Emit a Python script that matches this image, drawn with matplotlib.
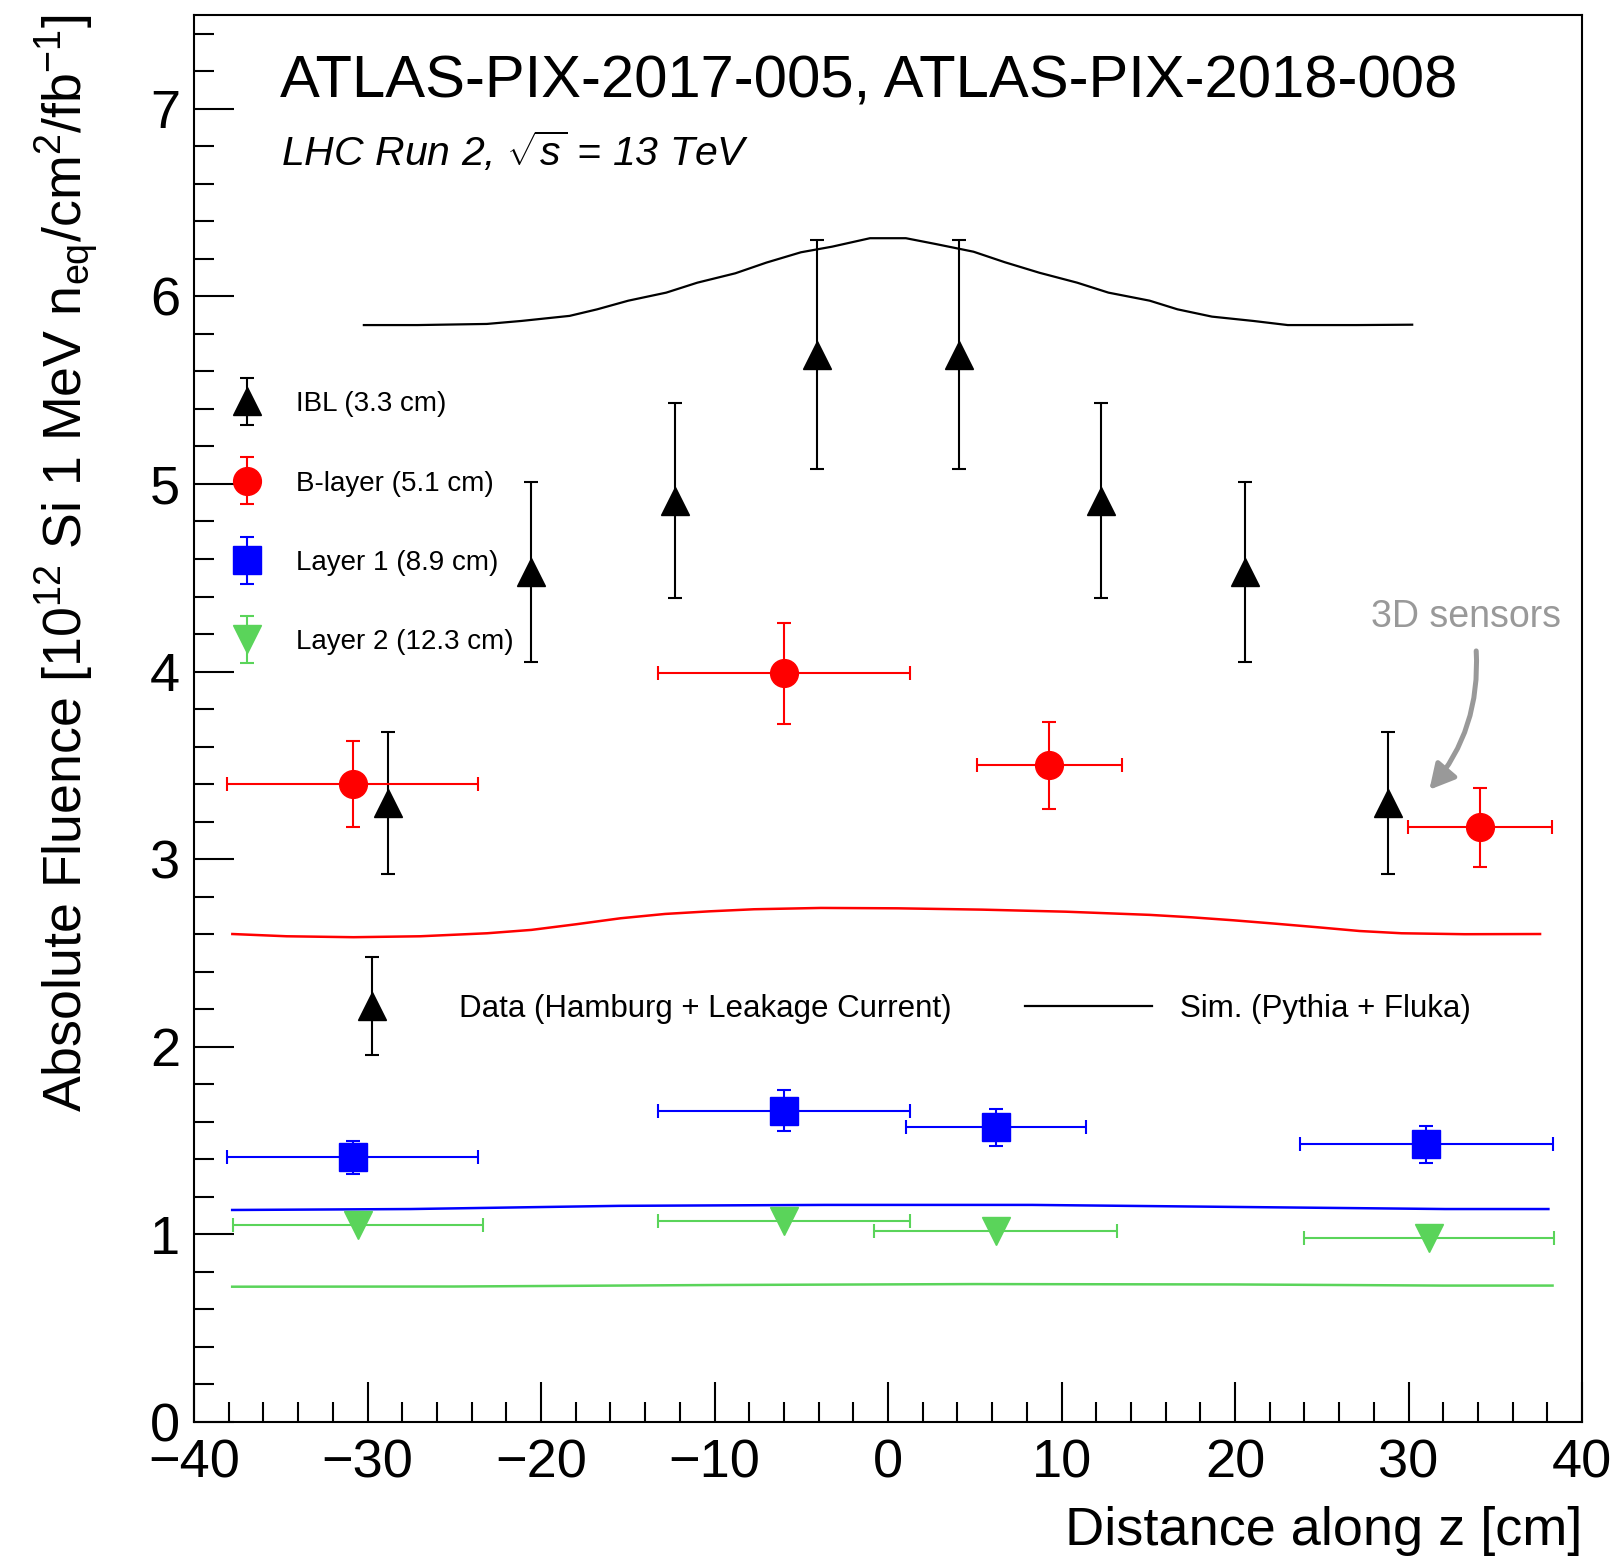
import matplotlib
matplotlib.use('Agg')
import matplotlib.pyplot as plt
import numpy as np
from matplotlib.ticker import MultipleLocator
from matplotlib.legend_handler import HandlerErrorbar
from matplotlib.container import ErrorbarContainer
from matplotlib.lines import Line2D

plt.rcParams['font.family'] = ['Liberation Sans', 'DejaVu Sans']
plt.rcParams['mathtext.fontset'] = 'custom'
plt.rcParams['mathtext.rm'] = 'Liberation Sans'
plt.rcParams['mathtext.it'] = 'Liberation Sans:italic'
plt.rcParams['mathtext.default'] = 'regular'

# --- data ---
ibl_z = [-28.8, -20.6, -12.3, -4.1, 4.1, 12.3, 20.6, 28.8]
ibl_flu = [3.30, 4.53, 4.91, 5.69, 5.69, 4.91, 4.53, 3.30]
ibl_err = [0.38, 0.48, 0.52, 0.61, 0.61, 0.52, 0.48, 0.38]

bl_z = [-30.85, -5.98, 9.29, 34.13]
bl_zerr = [7.22, 7.27, 4.17, 4.14]
bl_flu = [3.40, 3.99, 3.50, 3.17]
bl_err = [0.23, 0.27, 0.23, 0.21]

l1_z = [-30.85, -5.98, 6.22, 31.03]
l1_zerr = [7.22, 7.27, 5.2, 7.27]
l1_flu = [1.41, 1.66, 1.57, 1.48]
l1_err = [0.09, 0.11, 0.10, 0.10]

l2_z = [-30.55, -6.0, 6.2, 31.2]
l2_zerr = [7.2, 7.27, 7.02, 7.2]
l2_flu = [1.05, 1.07, 1.02, 0.98]

# simulation curves
sim_ibl_z = [-30.21, -27.11, -23.12, -21.13, -18.35, -16.76, -14.97, -12.78, -10.99, -8.80,
             -7.01, -5.02, -3.22, -1.04, 1.03, 2.75, 4.93, 6.73, 8.72, 10.90, 12.70, 15.08,
             16.68, 18.67, 21.05, 23.04, 27.02, 30.21]
sim_ibl = [5.847, 5.847, 5.853, 5.869, 5.896, 5.931, 5.977, 6.020, 6.073, 6.123,
           6.180, 6.235, 6.265, 6.310, 6.310, 6.279, 6.238, 6.182, 6.126, 6.073, 6.020, 5.977,
           5.931, 5.892, 5.869, 5.847, 5.847, 5.849]

sim_bl_z = [-37.79, -34.66, -30.81, -26.96, -23.11, -20.55, -17.98, -15.41, -12.85, -10.28,
            -7.72, -3.87, 0.57, 5.41, 10.25, 15.09, 17.51, 19.93, 22.34, 24.76, 27.18,
            29.60, 33.23, 37.58]
sim_bl = [2.601, 2.589, 2.584, 2.589, 2.605, 2.623, 2.653, 2.685, 2.708, 2.722,
          2.733, 2.740, 2.738, 2.731, 2.720, 2.703, 2.690, 2.674, 2.656, 2.637, 2.617,
          2.605, 2.600, 2.601]

sim_l1_z = [-37.8, -27.5, -15.5, -3.6, 8.3, 20.2, 32.1, 38.06]
sim_l1 = [1.130, 1.135, 1.152, 1.157, 1.157, 1.146, 1.135, 1.135]

sim_l2_z = [-37.8, -25.0, -10.0, 5.0, 20.0, 32.0, 38.3]
sim_l2 = [0.721, 0.722, 0.730, 0.735, 0.733, 0.727, 0.727]

layer_labels = ['IBL (3.3 cm)', 'B-layer (5.1 cm)', 'Layer 1 (8.9 cm)', 'Layer 2 (12.3 cm)']

GREEN = '#5ad45a'
GREY = '#999999'

fig = plt.figure(figsize=(16.14, 15.59), dpi=100)
ax = fig.add_axes([0.1202, 0.0879, 0.860, 0.9025])

# sim lines
ax.plot(sim_ibl_z, sim_ibl, color='black', lw=1.6)
ax.plot(sim_bl_z, sim_bl, color='red', lw=1.8)
ax.plot(sim_l1_z, sim_l1, color='blue', lw=1.8)
ax.plot(sim_l2_z, sim_l2, color=GREEN, lw=1.8)

eb = dict(linestyle='none', capsize=4.7, capthick=1.5, elinewidth=1.5, markersize=20)

ax.errorbar(ibl_z, ibl_flu, yerr=ibl_err, fmt='^', color='black', **eb)
ax.errorbar(bl_z, bl_flu, xerr=bl_zerr, yerr=bl_err, fmt='o', color='red', **eb)
ax.errorbar(l1_z, l1_flu, xerr=l1_zerr, yerr=l1_err, fmt='s', color='blue', **eb)
ax.errorbar(l2_z, l2_flu, xerr=l2_zerr, fmt='v', color=GREEN, **eb)

# legend proxies
h_ibl = ax.errorbar([np.nan], [np.nan], yerr=[0.1], fmt='^', color='black', **eb)
h_bl = ax.errorbar([np.nan], [np.nan], yerr=[0.1], fmt='o', color='red', **eb)
h_l1 = ax.errorbar([np.nan], [np.nan], yerr=[0.1], fmt='s', color='blue', **eb)
h_l2 = ax.errorbar([np.nan], [np.nan], yerr=[0.1], fmt='v', color=GREEN, **eb)

leg1 = ax.legend([h_ibl, h_bl, h_l1, h_l2], layer_labels, loc='upper left',
                 bbox_to_anchor=(0.018, 0.7326), frameon=False, fontsize=20,
                 handlelength=2, handletextpad=0.76, labelspacing=1.92,
                 borderpad=0, borderaxespad=0,
                 handler_map={ErrorbarContainer: HandlerErrorbar(yerr_size=0.85)})
ax.add_artist(leg1)

leg2 = ax.legend([h_ibl], ['Data (Hamburg + Leakage Current)'], loc='center left',
                 bbox_to_anchor=(0.0826, 0.2935), frameon=False, fontsize=22.5,
                 handlelength=4.04, handletextpad=0.78, borderpad=0, borderaxespad=0,
                 handler_map={ErrorbarContainer: HandlerErrorbar(yerr_size=1.56)})
ax.add_artist(leg2)

ax.legend([Line2D([], [], color='black', lw=1.6)], ['Sim. (Pythia + Fluka)'], loc='center left',
          bbox_to_anchor=(0.599, 0.2935), frameon=False, fontsize=22.5,
          handlelength=4.04, handletextpad=0.89, borderpad=0, borderaxespad=0)

# annotations
ax.text(0.062, 0.941, 'ATLAS-PIX-2017-005, ATLAS-PIX-2018-008', transform=ax.transAxes,
        fontsize=43, va='baseline')
ax.text(0.063, 0.893, r'LHC Run 2, $\sqrt{\mathit{s}}$ = 13 TeV', transform=ax.transAxes,
        fontsize=29.5, style='italic', va='baseline')

ax.text(33.3, 4.24, '3D sensors', color=GREY, fontsize=27, ha='center', va='baseline')
ax.annotate('', xy=(31.2, 3.37), xytext=(33.9, 4.11),
            arrowprops=dict(arrowstyle='-|>,head_length=0.75,head_width=0.4',
                            mutation_scale=20, color=GREY, lw=3.6,
                            connectionstyle='arc3,rad=-0.2', shrinkA=0, shrinkB=0))

# axes
ax.set_xlim(-40, 40)
ax.set_ylim(0, 7.5)
ax.xaxis.set_major_locator(MultipleLocator(10))
ax.xaxis.set_minor_locator(MultipleLocator(2))
ax.yaxis.set_major_locator(MultipleLocator(1))
ax.yaxis.set_minor_locator(MultipleLocator(0.2))
ax.tick_params(which='both', direction='in', top=False, right=False, width=1.5)
ax.tick_params(which='major', length=28.8, labelsize=39)
ax.tick_params(which='minor', length=14.4)
ax.tick_params(axis='x', pad=12)
ax.tick_params(axis='y', pad=10)
for s in ax.spines.values():
    s.set_linewidth(1.5)

ax.set_xlabel('Distance along z [cm]', fontsize=39, loc='right')
ax.xaxis.set_label_coords(1.0, -0.0595)
ax.set_ylabel(r'Absolute Fluence [10$^{12}$ Si 1 MeV n$_{eq}$/cm$^{2}$/fb$^{-1}$]',
              fontsize=38.7, loc='top')
ax.yaxis.set_label_coords(-0.067, 1.0)

fig.savefig('out.png', dpi=100)
